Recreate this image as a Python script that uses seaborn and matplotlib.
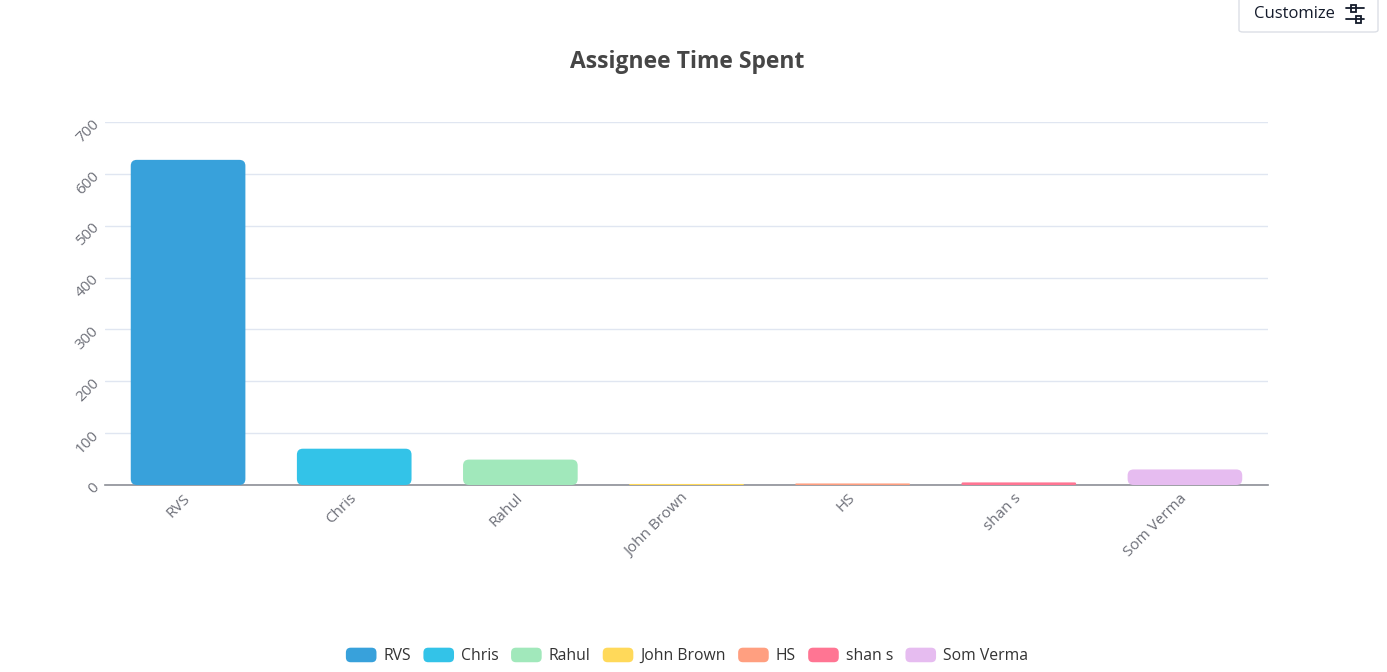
import pandas as pd
import numpy as np
import seaborn as sns
import matplotlib.pyplot as plt
import matplotlib.patches as mpatches
from matplotlib.legend_handler import HandlerPatch
from matplotlib.lines import Line2D

assignees = ['RVS', 'Chris', 'Rahul', 'John Brown', 'HS', 'shan s', 'Som Verma']
time_spent = [627, 70, 49, 2, 3, 5, 30]
colors = ['#38a1db', '#33c3e8', '#a1e8bb', '#ffd95a', '#ff9f80', '#ff7593', '#e6bcf0']
y_ticks = [0, 100, 200, 300, 400, 500, 600, 700]

df = pd.DataFrame({'assignee': assignees, 'time': time_spent})

sns.set_theme(style='white')
plt.rcParams['font.family'] = ['Open Sans', 'DejaVu Sans']

W, H = 1387, 672
fig = plt.figure(figsize=(W / 100, H / 100), dpi=100)
ax = fig.add_axes([105 / W, 1 - 485 / H, 1163 / W, 363 / H])

sns.barplot(data=df, x='assignee', y='time', hue='assignee', palette=colors,
            legend=False, width=0.69, ax=ax, saturation=1)

ax.set_ylim(0, 700)
ax.set_xlim(-0.5, len(assignees) - 0.5)

# swap the plain rectangles for rounded ones
px_per_x = 1163 / len(assignees)
px_per_y = 363 / 700
aspect = px_per_x / px_per_y
r = 6 / px_per_x
for p in list(ax.patches):
    x, y = p.get_x(), p.get_y()
    w, h = p.get_width(), p.get_height()
    rr = min(r, h / aspect / 2)
    fb = mpatches.FancyBboxPatch((x, y), w, h,
                                 boxstyle=f'round,pad=0,rounding_size={rr}',
                                 mutation_aspect=aspect,
                                 facecolor=p.get_facecolor(), edgecolor='none',
                                 zorder=3)
    p.remove()
    ax.add_patch(fb)

ax.set_yticks(y_ticks)
ax.yaxis.grid(True, color='#e0e6f1', linewidth=1)
ax.set_axisbelow(True)
for s in ['top', 'right', 'left']:
    ax.spines[s].set_visible(False)
ax.spines['bottom'].set_color('#8c8f96')
ax.spines['bottom'].set_linewidth(1.2)
ax.spines['bottom'].set_zorder(2.5)
ax.tick_params(axis='both', length=0, colors='#6e7079', labelsize=11)
ax.tick_params(axis='y', pad=6)
ax.tick_params(axis='x', pad=8)
for lbl in ax.get_yticklabels():
    lbl.set_rotation(45)
    lbl.set_ha('right')
    lbl.set_va('center')
    lbl.set_rotation_mode('anchor')
for lbl in ax.get_xticklabels():
    lbl.set_rotation(45)
    lbl.set_ha('right')
    lbl.set_va('center')
    lbl.set_rotation_mode('anchor')
ax.set_xlabel('')
ax.set_ylabel('')

fig.text(687 / W, 1 - 62 / H, 'Assignee Time Spent', ha='center', va='center',
         fontsize=16.5, fontweight='bold', color='#464646')


def make_round(legend, orig_handle, xdescent, ydescent, width, height, fontsize):
    return mpatches.FancyBboxPatch((-xdescent, -ydescent), width, height,
                                   boxstyle='round,pad=0,rounding_size=3.5')


handles = [mpatches.Patch(facecolor=c, edgecolor='none') for c in colors]
fig.legend(handles, assignees, loc='center', bbox_to_anchor=(687 / W, 1 - 656 / H),
           ncol=len(assignees), frameon=False, fontsize=11.3, labelcolor='#333333',
           handlelength=1.95, handleheight=1.05, handletextpad=0.45, columnspacing=0.78,
           handler_map={mpatches.Patch: HandlerPatch(patch_func=make_round)})

# Customize button
btn = mpatches.FancyBboxPatch((1239 / W, 1 - 32 / H), 139 / W, 40 / H,
                              boxstyle='round,pad=0,rounding_size=0.003',
                              transform=fig.transFigure, facecolor='white',
                              edgecolor='#dcdfe6', linewidth=1)
fig.add_artist(btn)
fig.text(1254 / W, 1 - 14 / H, 'Customize', ha='left', va='center',
         fontsize=12, fontweight='medium', color='#141b2b')
icon = [((1346, 8), (1364, 8)), ((1346, 19), (1364, 19))]
for (x0, y0), (x1, y1) in icon:
    fig.add_artist(Line2D([x0 / W, x1 / W], [1 - y0 / H, 1 - y1 / H],
                          color='#141b2b', linewidth=1.3, transform=fig.transFigure))
for cx, cy in [(1353, 8), (1358, 19)]:
    fig.add_artist(mpatches.Rectangle(((cx - 2.5) / W, 1 - (cy + 3.5) / H), 5 / W, 7 / H,
                                      facecolor='white', edgecolor='#141b2b',
                                      linewidth=1.3, transform=fig.transFigure))

fig.savefig('out.png', dpi=100)
